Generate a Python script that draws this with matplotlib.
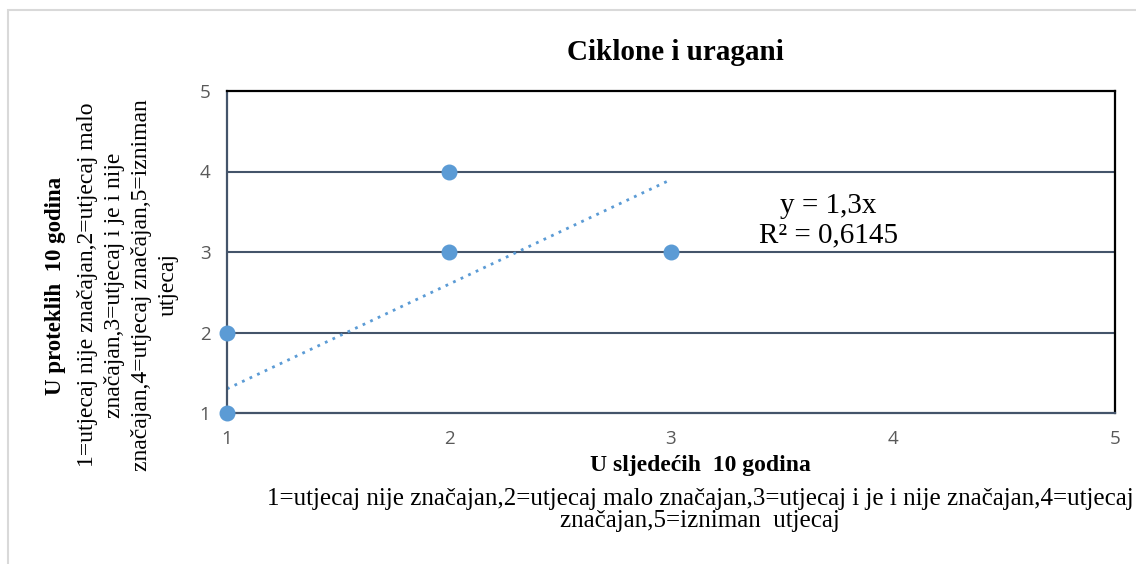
import matplotlib
matplotlib.use("Agg")
import matplotlib.pyplot as plt
from matplotlib.patches import Rectangle

# data
x_vals = [1, 1, 2, 2, 3]
y_vals = [1, 2, 3, 4, 3]
trend_x = [1, 3]
slope = 1.3
eq_text = "y = 1,3x\nR² = 0,6145"

title = "Ciklone i uragani"
x_title = "U sljedećih  10 godina"
x_note = "1=utjecaj nije značajan,2=utjecaj malo značajan,3=utjecaj i je i nije značajan,4=utjecaj\nznačajan,5=izniman  utjecaj"
y_title = "U proteklih  10 godina"
y_note = "1=utjecaj nije značajan,2=utjecaj malo\nznačajan,3=utjecaj i je i nije\nznačajan,4=utjecaj značajan,5=izniman\nutjecaj"
ticks = [1, 2, 3, 4, 5]

blue = "#5B9BD5"
slate = "#44546A"
serif = "Liberation Serif"

W, H = 1136, 564
fig = plt.figure(figsize=(W / 100, H / 100), dpi=100)

# light chart-area border (partly cut off in the original)
fig.patches.append(Rectangle((8 / W, -0.1), 1.2, 1 - 10 / H + 0.1, transform=fig.transFigure,
                             fill=False, edgecolor="#d9d9d9", lw=1.5))

ax = fig.add_axes([227 / W, 1 - 413 / H, (1115 - 227) / W, (413 - 91) / H])
ax.set_xlim(1, 5)
ax.set_ylim(1, 5)
ax.set_xticks(ticks)
ax.set_yticks(ticks)
ax.tick_params(length=0, labelsize=13.5, labelcolor="#595959", pad=12)
for lab in ax.get_xticklabels() + ax.get_yticklabels():
    lab.set_family("Open Sans")

for y in ticks[1:-1]:
    ax.axhline(y, color=slate, lw=1.5, zorder=1)
ax.spines["left"].set_color(slate)
ax.spines["bottom"].set_color(slate)
ax.spines["top"].set_color("black")
ax.spines["right"].set_color("black")
for s in ax.spines.values():
    s.set_linewidth(1.6)

ax.plot(trend_x, [slope * v for v in trend_x], ls=(0, (1, 2)), color=blue, lw=2, zorder=2)
ax.scatter(x_vals, y_vals, s=110, color=blue, zorder=3, clip_on=False)

ax.text(3.71, 3.39, eq_text, ha="center", va="center", family=serif, fontsize=21,
        linespacing=1.18)

fig.text(675 / W, 1 - 52 / H, title, ha="center", va="center", family=serif,
         fontsize=21, fontweight="bold")
fig.text(700 / W, 1 - 466 / H, x_title, ha="center", va="center", family=serif,
         fontsize=17, fontweight="bold")
fig.text(700 / W, 1 - 510 / H, x_note, ha="center", va="center", family=serif,
         fontsize=18, linespacing=1.04)
fig.text(55 / W, 1 - 286 / H, y_title, ha="center", va="center", family=serif,
         fontsize=16.5, fontweight="bold", rotation=90)
fig.text(128 / W, 1 - 285 / H, y_note, ha="center", va="center", family=serif,
         fontsize=17, rotation=90, linespacing=1.36)

fig.savefig("out.png", dpi=100)
